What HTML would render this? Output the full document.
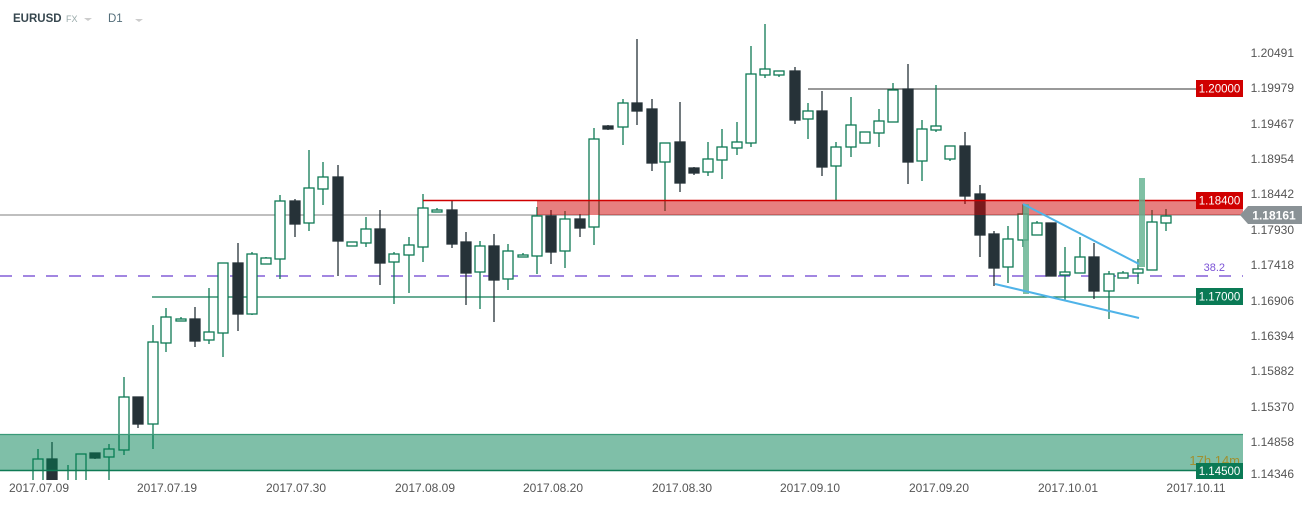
<!DOCTYPE html>
<html><head><meta charset="utf-8"><style>
html,body{margin:0;padding:0;background:#fff;width:1312px;height:505px;overflow:hidden;font-family:"Liberation Sans",sans-serif}
svg text{font-family:"Liberation Sans",sans-serif}
</style></head><body>
<svg id="s" width="1312" height="505" xmlns="http://www.w3.org/2000/svg">
<defs><clipPath id="cp"><rect x="0" y="0" width="1243" height="480"/></clipPath></defs>
<text x="13" y="22" font-size="11.5" font-weight="bold" fill="#37474f">EURUSD</text>
<text x="66" y="22" font-size="9" fill="#9aa">FX</text>
<path d="M84 18 l4 3 l4 -3z" fill="#ccc"/>
<text x="108" y="22" font-size="11.5" fill="#546e7a">D1</text>
<path d="M135 19 l4 3 l4 -3z" fill="#ccc"/>
<line x1="0" y1="215" x2="1243" y2="215" stroke="#999" stroke-width="1.2"/>
<line x1="808" y1="89" x2="1243" y2="89" stroke="#333" stroke-width="1"/>
<line x1="0" y1="276" x2="1243" y2="276" stroke="#6a3fcf" stroke-width="1.3" stroke-dasharray="12,11"/>
<line x1="152" y1="297" x2="1243" y2="297" stroke="#0f7a55" stroke-width="1.2"/>
<g id="c" clip-path="url(#cp)"></g>
<rect x="0" y="434" width="1243" height="37" fill="rgba(0,128,82,0.5)"/>
<line x1="0" y1="434.5" x2="1243" y2="434.5" stroke="#3a9a78" stroke-width="1.2"/>
<line x1="0" y1="470.5" x2="1243" y2="470.5" stroke="#0f7a55" stroke-width="1.5"/>
<rect x="537" y="200" width="706" height="15" fill="rgba(208,0,0,0.5)"/>
<line x1="423" y1="200.5" x2="1243" y2="200.5" stroke="#d00000" stroke-width="1.5"/>
<rect x="1023" y="204" width="6" height="90" fill="#5fb08d" opacity="0.8"/>
<rect x="1139" y="178" width="6" height="89" fill="#5fb08d" opacity="0.8"/>
<line x1="1023" y1="204" x2="1139" y2="264" stroke="#4fb3e8" stroke-width="2"/>
<line x1="995" y1="284" x2="1139" y2="318" stroke="#4fb3e8" stroke-width="2"/>
<text x="1225" y="271" font-size="11" fill="#7b52d6" text-anchor="end">38.2</text>
<text x="1240" y="465" font-size="13" fill="#a09030" text-anchor="end">17h 14m</text>
<g font-size="12" fill="#555" text-anchor="end">
<text x="1294" y="57">1.20491</text>
<text x="1294" y="92">1.19979</text>
<text x="1294" y="128">1.19467</text>
<text x="1294" y="163">1.18954</text>
<text x="1294" y="198">1.18442</text>
<text x="1294" y="234">1.17930</text>
<text x="1294" y="269">1.17418</text>
<text x="1294" y="305">1.16906</text>
<text x="1294" y="340">1.16394</text>
<text x="1294" y="375">1.15882</text>
<text x="1294" y="411">1.15370</text>
<text x="1294" y="446">1.14858</text>
<text x="1294" y="478">1.14346</text>
</g>
<rect x="1196" y="80" width="47" height="17" fill="#d00000"/>
<text x="1219.5" y="92.5" font-size="11.5" fill="#fff" text-anchor="middle">1.20000</text>
<rect x="1196" y="192" width="47" height="17" fill="#d00000"/>
<text x="1219.5" y="204.5" font-size="11.5" fill="#fff" text-anchor="middle">1.18400</text>
<path d="M1248 206 H1302 V224 H1248 L1240 215 Z" fill="#8a9296"/>
<text x="1274" y="219.5" font-size="12" font-weight="bold" fill="#fff" text-anchor="middle">1.18161</text>
<rect x="1196" y="288" width="47" height="17" fill="#0a7a55"/>
<text x="1219.5" y="300.5" font-size="11.5" fill="#fff" text-anchor="middle">1.17000</text>
<rect x="1196" y="463" width="47" height="16" fill="#0a7a55"/>
<text x="1219.5" y="475" font-size="11.5" fill="#fff" text-anchor="middle">1.14500</text>
<g font-size="12" fill="#555" text-anchor="middle">
<text x="39" y="492">2017.07.09</text>
<text x="167" y="492">2017.07.19</text>
<text x="296" y="492">2017.07.30</text>
<text x="425" y="492">2017.08.09</text>
<text x="553" y="492">2017.08.20</text>
<text x="682" y="492">2017.08.30</text>
<text x="810" y="492">2017.09.10</text>
<text x="939" y="492">2017.09.20</text>
<text x="1068" y="492">2017.10.01</text>
<text x="1196" y="492">2017.10.11</text>
</g>
</svg>
<script>
var d=[
[38,449,482,459,482,1],[52,442,482,459,482,0],[68,465,482,482,482,1],[81,454,482,454,482,1],[95,453,459,453,458,0],
[109,444,482,449,457,1],[124,377,455,397,450,1],[138,397,428,397,424,0],[153,325,449,342,424,1],[166,308,352,317,343,1],
[181,317,321,319,321,1],[195,307,347,319,341,0],[209,288,344,332,340,1],[223,263,357,263,333,1],[238,243,331,263,314,0],
[252,252,315,254,314,1],[266,257,264,258,264,1],[280,195,279,201,259,1],[295,199,237,201,224,0],[309,150,231,188,223,1],
[323,162,205,177,189,1],[338,165,276,177,241,0],[352,242,246,242,246,1],[366,217,247,229,243,1],[380,210,285,229,263,0],
[394,252,304,254,262,1],[409,237,293,245,255,1],[423,194,262,208,247,1],[437,208,212,210,212,1],[452,201,248,210,244,0],
[466,232,305,242,273,0],[480,241,309,246,272,1],[494,234,322,246,280,0],[508,244,290,251,279,1],[523,253,257,255,257,1],
[537,207,274,216,256,1],[551,210,264,216,252,0],[565,211,268,219,251,1],[580,214,237,219,228,0],[594,128,245,139,227,1],
[608,125,130,126,129,0],[623,99,145,103,127,1],[637,39,125,103,111,0],[652,99,171,109,163,0],[665,143,211,143,162,1],
[680,102,192,142,183,0],[694,167,175,168,173,0],[708,142,176,159,172,1],[722,129,179,147,160,1],[737,122,155,142,148,1],
[751,46,147,74,143,1],[765,24,78,69,75,1],[779,71,77,71,75,1],[795,67,124,71,120,0],[808,103,139,111,119,1],
[822,91,176,111,167,0],[836,142,200,147,166,1],[851,97,157,125,147,1],[865,132,143,132,143,1],[879,109,147,121,133,1],
[893,83,122,90,122,1],[908,64,184,89,162,0],[922,120,181,129,161,1],[936,85,132,126,130,1],[950,146,161,146,159,1],
[965,132,204,146,196,0],[980,185,257,194,235,0],[994,231,286,234,268,0],[1008,226,283,239,267,1],[1023,204,247,214,240,1],
[1037,221,235,223,235,1],[1051,223,276,223,276,0],[1065,247,300,272,275,1],[1080,237,273,257,273,1],[1094,243,299,257,291,0],
[1109,271,319,274,291,1],[1123,271,278,273,278,1],[1138,259,284,269,273,1],[1152,210,270,222,270,1],[1166,209,231,216,223,1]];
var g=document.getElementById('c'),h='';
d.forEach(function(c){var col=c[5]?'#0f7a55':'#263238';var x=c[0];
h+='<line x1="'+x+'" y1="'+c[1]+'" x2="'+x+'" y2="'+c[2]+'" stroke="'+col+'" stroke-width="1.3"/>';
var bh=Math.max(c[4]-c[3],2);
h+='<rect x="'+(x-5)+'" y="'+c[3]+'" width="10" height="'+bh+'" fill="'+(c[5]?'#fff':'#263238')+'" stroke="'+col+'" stroke-width="1.3"/>';});
g.innerHTML=h;
</script>
</body></html>
